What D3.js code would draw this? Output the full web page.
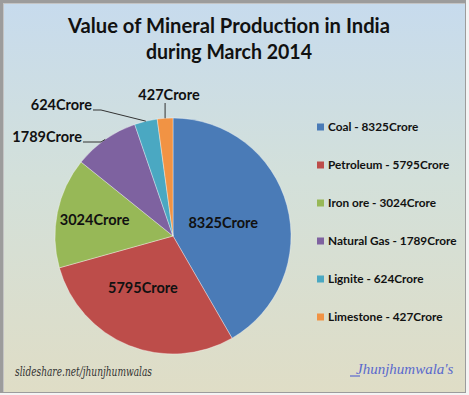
<!DOCTYPE html>
<html><head><meta charset="utf-8">
<script src="https://cdn.jsdelivr.net/npm/d3@7"></script>
<style>html,body{margin:0;padding:0;background:#fff;overflow:hidden}</style>
</head><body>
<svg id="c" width="469" height="395"></svg>
<script>
const categories = ["Coal", "Petroleum", "Iron ore", "Natural Gas", "Lignite", "Limestone"];
const values = [8325, 5795, 3024, 1789, 624, 427];
const unit = "Crore";
const colors = ["#4a7bb7", "#bd4d4a", "#97b857", "#7e62a0", "#4aa8c2", "#f19344"];
const titleLines = ["Value of Mineral Production in India", "during March 2014"];
const footLeft = "slideshare.net/jhunjhumwalas";
const footRight = "Jhunjhumwala's";

const W = 469, H = 395;
const svg = d3.select("#c");
const defs = svg.append("defs");
const g = defs.append("linearGradient").attr("id","bg").attr("x1",0).attr("y1",0).attr("x2",0).attr("y2",1);
g.append("stop").attr("offset","0%").attr("stop-color","#c7dbed");
g.append("stop").attr("offset","45%").attr("stop-color","#d3e0da");
g.append("stop").attr("offset","100%").attr("stop-color","#dfddc6");

// frame
svg.append("rect").attr("x",0).attr("y",0).attr("width",W).attr("height",H).attr("fill","#f4f4f4");
svg.append("rect").attr("x",0).attr("y",0).attr("width",466).attr("height",393).attr("fill","#9c9c9c");
svg.append("rect").attr("x",3).attr("y",3).attr("width",462).attr("height",389).attr("fill","#c4c4c4");
svg.append("rect").attr("x",4).attr("y",4).attr("width",461).attr("height",388).attr("fill","url(#bg)");

const font = "Lato, 'Open Sans', sans-serif";

// title
svg.selectAll("text.title").data(titleLines).join("text")
  .attr("class","title")
  .attr("x", 229).attr("y", (d,i) => 33 + i*26)
  .attr("text-anchor","middle")
  .attr("font-family", font).attr("font-weight","bold").attr("font-size", 20)
  .attr("fill","#111")
  .attr("textLength", (d,i) => i === 0 ? 322 : 166)
  .attr("lengthAdjust","spacingAndGlyphs")
  .text(d => d);

// pie
const cx = 173, cy = 236, R = 118;
const data = categories.map((c,i) => ({cat:c, value:values[i], color:colors[i]}));
const pie = d3.pie().value(d => d.value).sort(null);
const arcs = pie(data);
const arc = d3.arc().innerRadius(0).outerRadius(R);
const pg = svg.append("g").attr("transform", `translate(${cx},${cy})`);
pg.selectAll("path").data(arcs).join("path")
  .attr("d", arc)
  .attr("fill", d => d.data.color)
  .attr("stroke", "rgba(255,255,255,0.45)")
  .attr("stroke-width", 0.8);

// labels: inside for large slices, outside with leader lines for small ones
const labelLayout = [
  {inside:true, r:52, da:0},
  {inside:true, r:60, da:8},
  {inside:true, r:80, da:0},
  {inside:false, tx:-91, ty:-99, anchor:"end", elbow:-72},
  {inside:false, tx:-81, ty:-131, anchor:"end", elbow:-72},
  {inside:false, tx:-4, ty:-141, anchor:"middle", elbow:null}
];
arcs.forEach((a,i) => {
  const L = labelLayout[i];
  const mid = (a.startAngle + a.endAngle)/2;
  const txt = a.data.value + unit;
  if (L.inside) {
    const ang = mid + L.da*Math.PI/180;
    const x = L.r*Math.sin(ang), y = -L.r*Math.cos(ang);
    pg.append("text").attr("x",x).attr("y",y).attr("dy","0.36em")
      .attr("text-anchor","middle").attr("font-family",font).attr("font-weight","bold")
      .attr("font-size",14.5).attr("fill","#111").text(txt);
  } else {
    const ex = R*Math.sin(mid), ey = -R*Math.cos(mid);
    pg.append("text").attr("x",L.tx).attr("y",L.ty).attr("dy","0.36em")
      .attr("text-anchor",L.anchor).attr("font-family",font).attr("font-weight","bold")
      .attr("font-size",14.5).attr("fill","#111").text(txt);
    let pts;
    if (L.elbow === null) pts = [[ex, ey],[ex, L.ty+8]];
    else pts = [[L.tx+1, L.ty+5],[L.elbow, L.ty+5],[ex, ey]];
    pg.append("path").attr("d", d3.line()(pts)).attr("fill","none")
      .attr("stroke","#333").attr("stroke-width",1);
  }
});

// legend
const lg = svg.append("g");
const rows = lg.selectAll("g").data(data).join("g")
  .attr("transform", (d,i) => `translate(317,${127 + i*38})`);
rows.append("rect").attr("x",0).attr("y",-3.5).attr("width",7).attr("height",7).attr("fill", d => d.color);
rows.append("text").attr("x",11).attr("y",0).attr("dy","0.36em")
  .attr("font-family",font).attr("font-weight","bold").attr("font-size",11.8).attr("fill","#111")
  .text(d => `${d.cat} - ${d.value}${unit}`);

// footer
svg.append("text").attr("x",15).attr("y",376)
  .attr("font-family","'DejaVu Serif', serif").attr("font-style","italic").attr("font-size",12)
  .attr("fill","#333").attr("textLength",137).attr("lengthAdjust","spacingAndGlyphs").text(footLeft);
svg.append("line").attr("x1",350).attr("x2",360).attr("y1",376).attr("y2",376)
  .attr("stroke","#5a6acd").attr("stroke-width",1.2);
svg.append("text").attr("x",356).attr("y",374)
  .attr("font-family","'Liberation Serif', serif").attr("font-style","italic").attr("font-size",15)
  .attr("fill","#5a6acd").text(footRight);
</script>
</body></html>
